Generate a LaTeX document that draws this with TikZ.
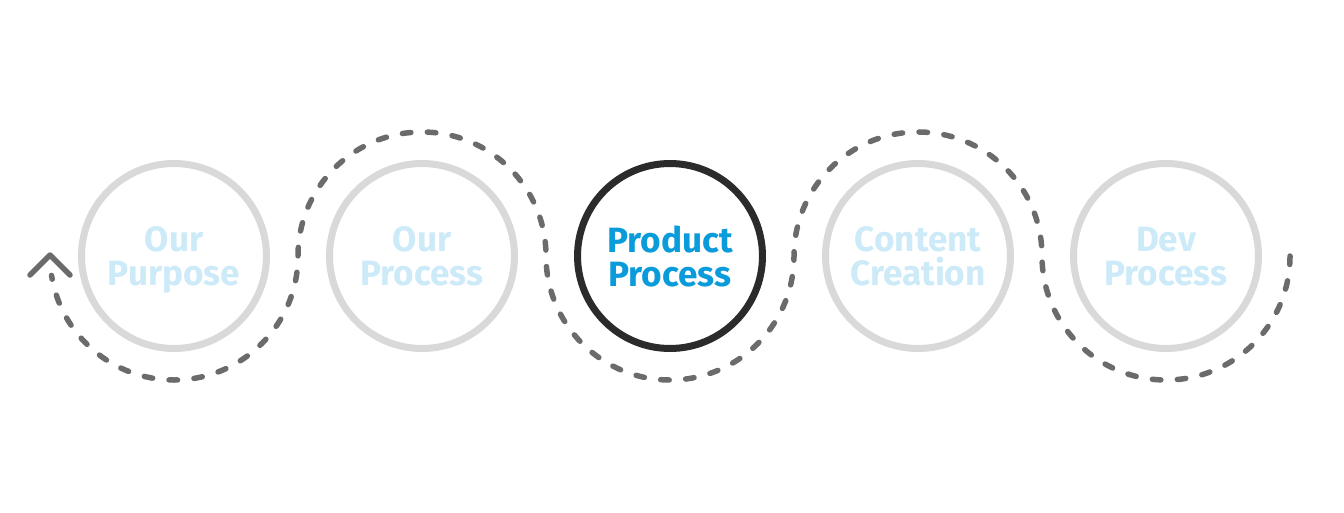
\documentclass[tikz,border=0pt]{standalone}
\usepackage{fontspec}
\setmainfont{Fira Sans}
\usepackage{xcolor}
\usetikzlibrary{arrows.meta,positioning,calc}
\definecolor{trailgray}{HTML}{6B6B6B}
\definecolor{ringgray}{HTML}{D9D9D9}
\definecolor{ringdark}{HTML}{2B2B2B}
\definecolor{activeblue}{HTML}{0A9BDB}
\definecolor{fadeblue}{HTML}{CCEAF8}
\tikzset{
  stage/.style={circle,draw=ringgray,line width=0.14cm,minimum size=3.7cm,inner sep=0pt,align=center,
    text depth=0pt,font=\bfseries\fontsize{20}{19.3}\selectfont,text=fadeblue},
  current/.style={stage,draw=ringdark,text=activeblue},
  trail/.style={draw=trailgray,line width=0.11cm,line cap=round,dash pattern=on 0.17cm off 0.33cm},
  tipmark/.style={draw=trailgray,line width=0.11cm,line cap=round,line join=round},
}

\begin{document}
\begin{tikzpicture}[x=0.02cm,y=0.02cm]
\useasboundingbox (0,0) rectangle (1344,512);
\foreach \i/\st/\lab in {1/stage/{Our\\Purpose},2/stage/{Our\\Process},3/current/{Product\\Process},4/stage/{Content\\Creation},5/stage/{Dev\\Process}}
{\node[\st] (c\i) at ({174+248*(\i-1)},256) {\lab};}
% dashed trail, right to left
\coordinate (start) at ($(c5)+(124,0)$);
\draw[trail] (start) arc[start angle=0,end angle=-180,radius=124]
  arc[start angle=0,end angle=180,radius=124]
  arc[start angle=0,end angle=-180,radius=124]
  arc[start angle=0,end angle=180,radius=124]
  arc[start angle=0,end angle=-171,radius=124] coordinate (last);
\coordinate (tip) at ($(c1)+(-124,1)$);
\draw[tipmark] ($(tip)+(-20,-20)$) -- (tip) -- ($(tip)+(20,-20)$);
\end{tikzpicture}
\end{document}
